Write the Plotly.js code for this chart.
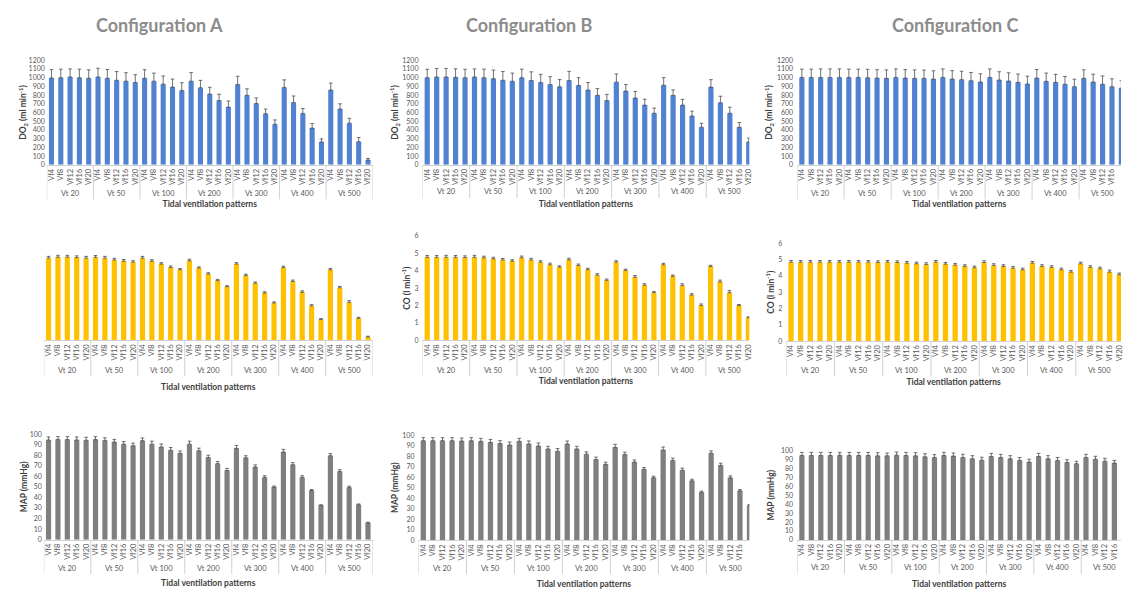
<!DOCTYPE html>
<html>
<head>
<meta charset="utf-8">
<script src="https://cdn.plot.ly/plotly-3.0.1.min.js"></script>
<style>html,body{margin:0;padding:0;background:#fff}#chart{width:1125px;height:590px}</style>
</head>
<body>
<div id="chart"></div>
<script>
// ---------- categories ----------
const groups = ['Vt 20','Vt 50','Vt 100','Vt 200','Vt 300','Vt 400','Vt 500'];
const subs = ['Vf4','Vf8','Vf12','Vf16','Vf20'];
const configTitles = ['Configuration A','Configuration B','Configuration C'];
const xTitle = 'Tidal ventilation patterns';
const yTitles = ['DO<sub>2</sub> (ml min<sup>-1</sup>)', 'CO (l min<sup>-1</sup>)', 'MAP (mmHg)'];

// ---------- DO2 (ml/min) ----------
const do2A = [997,1000,1008,1000,993, 1008,993,970,960,944, 993,960,925,892,854, 960,884,812,737,662, 922,797,703,587,466, 888,715,590,421,263, 858,640,478,265,55];
const do2AErr = [95,97,93,98,97, 100,100,100,97,90, 98,92,95,92,88, 98,85,77,73,70, 94,75,64,53,49, 87,75,56,52,34, 80,60,55,48,18];
const do2B = [1000,1008,1008,1004,1000, 1008,1000,989,970,959, 1000,967,944,921,895, 967,910,858,797,737, 948,846,767,685,591, 914,797,685,560,432, 892,712,591,430,262];
const do2BErr = [96,98,98,98,96, 92,98,98,100,94, 98,100,94,90,83, 105,90,86,77,71, 94,76,75,68,60, 86,62,66,56,45, 85,75,70,55,45];
const do2C = [1003,1003,1003,1003,1003, 1003,1003,999,995,992, 1003,995,992,992,984, 1003,984,977,965,950, 1003,973,961,946,927, 995,958,946,924,897, 992,950,924,897,880];
const do2CErr = [95,95,97,97,97, 95,95,97,97,97, 97,97,97,95,95, 97,97,97,95,95, 97,95,95,95,90, 98,95,92,90,85, 98,90,95,90,85];

// ---------- CO (l/min) ----------
const coA = [4.72,4.78,4.78,4.75,4.72, 4.77,4.72,4.62,4.55,4.49, 4.72,4.55,4.38,4.19,4.06, 4.57,4.15,3.81,3.43,3.08, 4.38,3.72,3.28,2.72,2.15, 4.18,3.38,2.76,1.98,1.2, 4.05,3.02,2.18,1.27,0.2];
const coAErr = [0.1,0.1,0.1,0.1,0.1, 0.1,0.1,0.09,0.09,0.08, 0.1,0.08,0.08,0.08,0.06, 0.09,0.07,0.07,0.07,0.06, 0.08,0.08,0.07,0.07,0.06, 0.08,0.08,0.08,0.07,0.05, 0.08,0.08,0.1,0.05,0.04];
const coB = [4.77,4.77,4.77,4.77,4.75, 4.77,4.74,4.68,4.62,4.55, 4.74,4.62,4.49,4.34,4.21, 4.62,4.3,4.06,3.74,3.45, 4.49,4.02,3.62,3.17,2.74, 4.34,3.68,3.15,2.6,2.0, 4.24,3.36,2.74,2.0,1.3];
const coBErr = [0.1,0.1,0.11,0.1,0.1, 0.11,0.09,0.09,0.08,0.08, 0.1,0.09,0.08,0.09,0.07, 0.09,0.08,0.08,0.09,0.07, 0.08,0.07,0.1,0.08,0.07, 0.08,0.07,0.1,0.08,0.09, 0.07,0.1,0.12,0.06,0.05];
const coC = [4.85,4.85,4.85,4.85,4.85, 4.85,4.85,4.85,4.85,4.83, 4.85,4.83,4.79,4.75,4.71, 4.85,4.73,4.67,4.59,4.51, 4.83,4.65,4.59,4.48,4.38, 4.79,4.59,4.53,4.38,4.24, 4.75,4.53,4.44,4.24,4.08];
const coCErr = [0.1,0.1,0.1,0.1,0.1, 0.1,0.1,0.1,0.1,0.1, 0.1,0.1,0.1,0.1,0.1, 0.1,0.1,0.1,0.1,0.1, 0.1,0.1,0.1,0.1,0.1, 0.1,0.1,0.1,0.1,0.1, 0.1,0.1,0.1,0.12,0.1];

// ---------- MAP (mmHg) ----------
const mapA = [94.5,94.8,94.8,94.5,94.2, 94.8,94,92.5,90.5,89, 93.8,90.5,87.8,84.8,81.8, 90.5,84.2,77.8,72,65.5, 86.5,77.5,68.8,59,49.8, 83,71,59,46.5,32.5, 79.5,64.5,49.5,33,16];
const mapAErr = [2.8,2.8,2.8,2.8,2.8, 2.8,2.5,2.5,2.5,2.5, 2.5,2.8,2.8,2.5,2.2, 2.8,2.5,2.2,2,2, 2.8,2,2,1.5,1, 2.5,2,1.5,1,0.5, 2,1.8,1.2,0.8,0.5];
const mapB = [94.7,94.7,94.7,94.7,94.4, 94.7,94.1,93.1,91.9,90.6, 94.1,91.6,89.7,86.9,84.7, 91.6,86.9,81.9,76.9,72.2, 88.4,81.6,74.4,67.5,59.4, 85.9,75.9,66.6,56.6,45.6, 82.8,71.3,59.4,47,33];
const mapBErr = [2.8,2.8,2.8,2.8,2.8, 2.8,2.8,2.8,2.8,2.8, 2.8,2.8,2.8,2.5,2.5, 2.8,2.5,2.2,2.2,2, 2.8,2.2,2,1.8,1.5, 2.8,2.2,2,1.5,1.2, 2.2,2,1.8,1.2,1];
const mapC = [94.5,94.5,94.5,94.5,94.8, 94.5,94.5,94.5,94.1,94.1, 94.9,94.5,94.1,93,92.3, 94.5,93.8,92.3,90.8,89.3, 93.4,92.3,90.8,89,87.1, 93.4,90.8,89,86.8,85.3, 92.3,90.4,88.2,86,85];
const mapCErr = [3.5,3.5,3.5,3.5,3.2, 3.5,3.5,3.5,3.5,3.2, 3.5,3.5,3.5,3.5,3.2, 3.5,3.5,3.5,3.5,3.2, 3.5,3.5,3.5,3.2,3.2, 3.5,3.5,3.2,3,2.8, 3.5,3.2,3.2,3,2.8];

// ---------- category keys (group + sub) and their shown labels ----------
const catKeys = [], catText = [];
groups.forEach(g => subs.forEach(s => { catKeys.push(g + ' ' + s); catText.push(s); }));

const W = 1125, H = 590;
const FONT = 'Lato, "Open Sans", sans-serif';
const colors = ['#5182d2', '#ffc000', '#7f7f7f'];
const rows = [
  {vals: [do2A, do2B, do2C], errs: [do2AErr, do2BErr, do2CErr], yr: [0, 1200], dt: 100},
  {vals: [coA, coB, coC], errs: [coAErr, coBErr, coCErr], yr: [0, 6], dt: 1},
  {vals: [mapA, mapB, mapC], errs: [mapAErr, mapBErr, mapCErr], yr: [0, 100], dt: 10}
];
// panel geometry (px)
const geom = [
  [{x0:47,x1:374,t:56,b:162,re:34.5,yl:true,gy:190.7,de:197,ts:17,ys:0,ls:1},
   {x0:424,x1:752,t:56,b:162,re:34.06,yl:true,gy:189.5,de:196,ts:17,ys:2,ls:3},
   {x0:800,x1:1125,t:56,b:162,re:33.96,yl:true,gy:190.7,de:197,ts:17,ys:2,ls:3}],
  [{x0:44,x1:374,t:234,b:340,re:34.5,yl:false,gy:370.7,de:376.5,ts:24,ys:0,ls:1},
   {x0:424,x1:752,t:234,b:340,re:34.1,yl:true,gy:370.7,de:376.5,ts:18,ys:2,ls:3},
   {x0:789,x1:1125,t:241.7,b:340.7,re:34.18,yl:true,gy:370.7,de:376.5,ts:18,ys:2,ls:3}],
  [{x0:44,x1:374,t:435,b:542,re:34.5,yl:true,gy:571,de:577,ts:21,ys:0,ls:1},
   {x0:420,x1:752,t:436,b:542.7,re:33.98,yl:true,gy:571.5,de:577,ts:21,ys:2,ls:3},
   {x0:800,x1:1125,t:451.7,b:542.3,re:33.7,yl:true,gy:570.7,de:577,ts:21,ys:4,ls:3}]
];

const data = [];
const layout = {
  width: W, height: H,
  margin: {l: 0, r: 0, t: 0, b: 0},
  paper_bgcolor: '#ffffff', plot_bgcolor: '#ffffff',
  showlegend: false,
  bargap: 0.45,
  font: {family: FONT, color: '#595959', size: 7.5},
  annotations: [],
  shapes: []
};

let k = 0;
for (let r = 0; r < 3; r++) {
  for (let c = 0; c < 3; c++) {
    k++;
    const g = geom[r][c];
    const xa = k === 1 ? 'x' : 'x' + k;
    const ya = k === 1 ? 'y' : 'y' + k;
    data.push({
      type: 'bar',
      x: catKeys,
      y: rows[r].vals[c],
      xaxis: xa, yaxis: ya,
      marker: {color: colors[r], line: {width: 0}},
      error_y: {type: 'data', symmetric: false, array: rows[r].errs[c], arrayminus: rows[r].vals[c].map(() => 0),
                color: '#4d4d4d', thickness: 0.8, width: 1.8},
      hoverinfo: 'y'
    });
    const xKey = k === 1 ? 'xaxis' : 'xaxis' + k;
    const yKey = k === 1 ? 'yaxis' : 'yaxis' + k;
    layout[xKey] = {
      type: 'category',
      categoryorder: 'array', categoryarray: catKeys,
      domain: [g.x0 / W, g.x1 / W],
      anchor: ya,
      range: [-0.5, g.re],
      tickmode: 'array', tickvals: catKeys, ticktext: catText,
      tickangle: -90,
      tickfont: {family: FONT, size: 7.5, color: '#595959'},
      showline: true, linecolor: '#d0d0d0', linewidth: 1,
      ticks: '', showgrid: false, zeroline: false,
      automargin: true,
      title: {text: xTitle, font: {family: FONT, size: 8.5, color: '#404040', weight: 'bold'}, standoff: g.ts}
    };
    const yAx = {
      domain: [1 - g.b / H, 1 - g.t / H],
      anchor: xa,
      range: rows[r].yr, dtick: rows[r].dt, tick0: 0,
      showgrid: false, zeroline: false, showline: false, ticks: '',
      showticklabels: g.yl,
      tickfont: {family: FONT, size: 7, color: '#595959'},
      ticklabelstandoff: g.ls,
      automargin: true
    };
    if (g.yl) {
      yAx.title = {text: yTitles[r], font: {family: FONT, size: 8.5, color: '#404040', weight: 'bold'}, standoff: g.ys};
    }
    layout[yKey] = yAx;

    // group labels (centred on the middle category of each group) and group dividers
    groups.forEach((grp, gi) => {
      layout.annotations.push({
        text: grp, xref: xa, yref: 'paper',
        x: catKeys[gi * subs.length + 2], y: 1 - g.gy / H,
        xanchor: 'center', yanchor: 'middle', showarrow: false,
        font: {family: FONT, size: 7.5, color: '#595959'}
      });
    });
    for (let gi = 0; gi <= groups.length; gi++) {
      const pos = gi * subs.length - 0.5;
      if (pos > g.re) continue;
      layout.shapes.push({
        type: 'line', xref: xa, yref: 'paper',
        x0: pos, x1: pos, y0: 1 - g.b / H, y1: 1 - g.de / H,
        line: {color: '#d0d0d0', width: 1}
      });
    }
  }
}

const titleX = [160, 531, 959];
configTitles.forEach((t, i) => {
  layout.annotations.push({
    text: '<b>' + t + '</b>', xref: 'paper', yref: 'paper',
    x: titleX[i] / W, y: 1 - 20 / H, xanchor: 'center', yanchor: 'middle',
    showarrow: false, font: {family: FONT, size: 18, color: '#8c8c8c'}
  });
});

Plotly.newPlot('chart', data, layout, {displayModeBar: false, staticPlot: true});
</script>
</body>
</html>
